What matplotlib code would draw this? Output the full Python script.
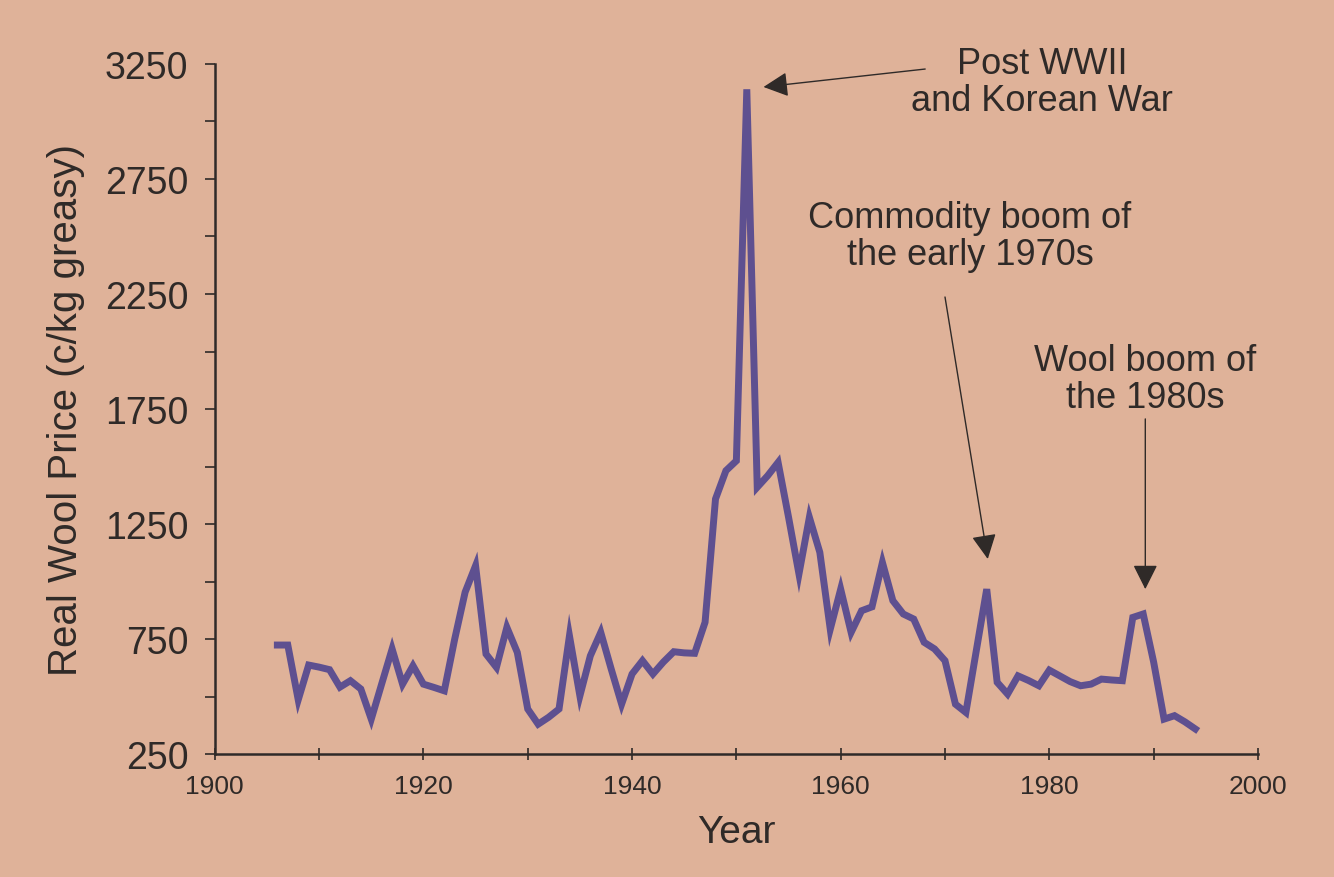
import matplotlib
matplotlib.use("Agg")
import matplotlib.pyplot as plt
from matplotlib.ticker import MultipleLocator

years = list(range(1906, 1995))
prices = [
    724, 724, 486, 637, 628, 617, 541, 569, 533, 402,   # 1906-1915
    555, 707, 554, 634, 554, 540, 525, 750, 954, 1069,  # 1916-1925
    685, 627, 801, 692, 446, 380, 410, 446, 764, 503,   # 1926-1935
    677, 779, 620, 467, 598, 656, 598, 650, 695, 690,   # 1936-1945
    688, 823, 1359, 1482, 1525, 3140, 1410, 1460, 1518, 1280,  # 1946-1955
    1033, 1279, 1127, 793, 967, 779, 873, 890, 1083, 917,      # 1956-1965
    859, 837, 736, 707, 656, 467, 431, 700, 967, 562,   # 1966-1975
    511, 590, 570, 547, 615, 590, 565, 547, 554, 576,   # 1976-1985
    572, 569, 844, 859, 650, 402, 417, 390, 359,        # 1986-1994
]

y_ticks = [250, 750, 1250, 1750, 2250, 2750, 3250]
x_ticks = [1900, 1920, 1940, 1960, 1980, 2000]

annotations = [
    ("Post WWII\nand Korean War", (1979.3, 3172), (1968.1, 3228), (1952.6, 3150)),
    ("Commodity boom of\nthe early 1970s", (1972.4, 2502), (1970.0, 2237), (1974.1, 1098)),
    ("Wool boom of\nthe 1980s", (1989.2, 1880), (1989.2, 1707), (1989.2, 967)),
]

bg = "#dfb299"
ink = "#2f2a28"
line_color = "#5e5090"

plt.rcParams['font.family'] = ['Liberation Sans', 'DejaVu Sans']

fig = plt.figure(figsize=(13.34, 8.78), dpi=100, facecolor=bg)
ax = fig.add_axes([0.161, 0.140, 0.782, 0.786])
ax.set_facecolor(bg)

ax.plot(years, prices, color=line_color, lw=5, solid_joinstyle='miter')

ax.set_xlim(1900, 2000)
ax.set_ylim(250, 3250)
ax.set_xticks(x_ticks)
ax.xaxis.set_minor_locator(MultipleLocator(10))
ax.set_yticks(y_ticks)
ax.yaxis.set_minor_locator(MultipleLocator(250))

for s in ['top', 'right']:
    ax.spines[s].set_visible(False)
for s in ['left', 'bottom']:
    ax.spines[s].set_color(ink)
    ax.spines[s].set_linewidth(1.8)

ax.tick_params(axis='y', which='both', direction='out', length=7, width=1.2,
               color=ink, labelsize=27, labelcolor=ink, pad=12)
ax.tick_params(axis='x', which='both', direction='inout', length=8, width=1.2,
               color=ink, labelsize=19, labelcolor=ink, pad=10)

ax.set_ylabel("Real Wool Price (c/kg greasy)", fontsize=29, color=ink, labelpad=14)
ax.set_xlabel("Year", fontsize=28, color=ink, labelpad=12)

for text, txy, tail, head in annotations:
    ax.text(txy[0], txy[1], text, ha='center', va='center', fontsize=26,
            color=ink, linespacing=1.05, clip_on=False)
    ax.annotate("", xy=head, xytext=tail,
                arrowprops=dict(arrowstyle='-|>', color=ink, lw=1.0,
                                mutation_scale=38, shrinkA=0, shrinkB=0),
                annotation_clip=False)

fig.savefig("out.png", dpi=100, facecolor=bg)
